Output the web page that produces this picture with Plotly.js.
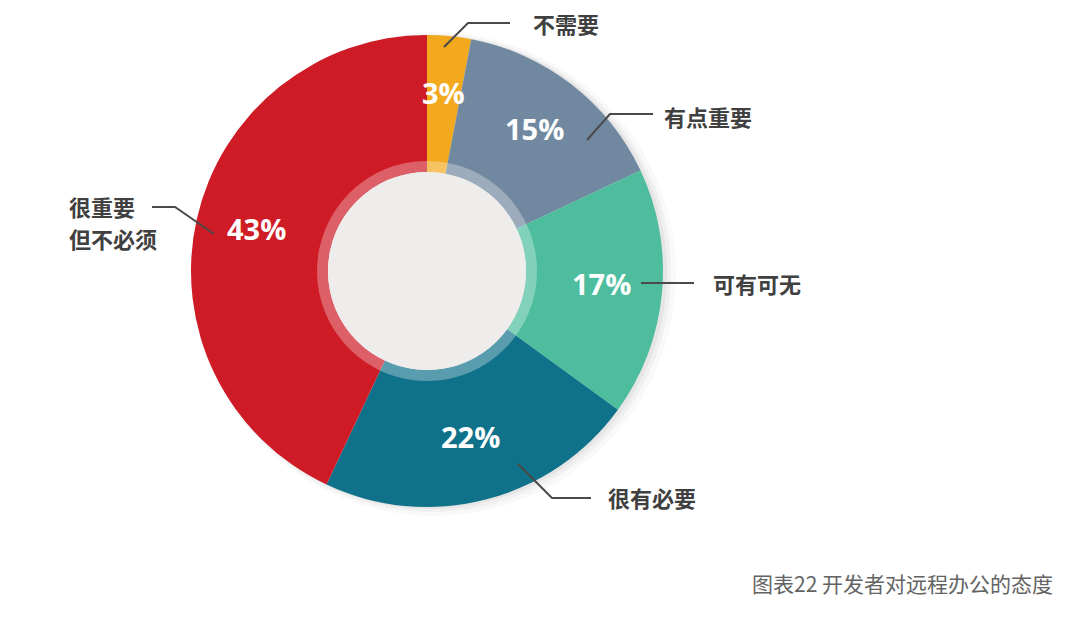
<!DOCTYPE html>
<html>
<head>
<meta charset="utf-8">
<script src="https://cdn.plot.ly/plotly-3.0.1.min.js"></script>
<style>
  html, body { margin: 0; padding: 0; background: #fff; }
  #chart { width: 1080px; height: 617px; }
</style>
</head>
<body>
<div id="chart"></div>
<script>
const categories = ["不需要", "有点重要", "可有可无", "很有必要", "很重要<br>但不必须"];
const shares = [3, 15, 17, 22, 43];
const sliceColors = ["#F2A91E", "#7189A0", "#4DBD9D", "#10728A", "#CF1B26"];
const chartTitle = "图表22 开发者对远程办公的态度";

const W = 1080, H = 617;
const cx = 427, cy = 271, R = 236, holeR = 99, ringR = 110;
const px = (x, y) => [x / W, 1 - y / H];

// percent labels at the middle angle of each slice
const total = shares.reduce((a, b) => a + b, 0);
let cum = 0;
const pctAnnotations = shares.map(v => {
  const mid = (cum + v / 2) / total * 2 * Math.PI;
  cum += v;
  const r = 175;
  const [x, y] = px(cx + r * Math.sin(mid), cy - 4 - r * Math.cos(mid));
  return {
    x, y, xref: "paper", yref: "paper", showarrow: false,
    xanchor: "center", yanchor: "middle",
    text: v + "%",
    font: { family: "Open Sans, Noto Sans, sans-serif", size: 29, color: "#ffffff", weight: 700 }
  };
});

// leader lines (pixel polylines) and label anchors
const leaders = [
  [[444, 47], [468, 23], [510, 23]],
  [[587, 140], [610, 114], [653, 114]],
  [[641, 283], [694, 283]],
  [[518, 464], [552, 498], [591, 498]],
  [[214, 234], [175, 207], [152, 207]]
];
const labelAnchors = [[532, 23], [663, 116], [712, 283], [607, 497], [68, 206]];
const lineGap = 32;

const leaderShapes = leaders.map(pts => ({
  type: "path", xref: "paper", yref: "paper",
  path: pts.map((p, i) => {
    const [x, y] = px(p[0], p[1]);
    return (i ? "L" : "M") + x + "," + y;
  }).join(" "),
  line: { color: "#4a4a4a", width: 2 }
}));

const labelAnnotations = categories.flatMap((c, i) =>
  c.split("<br>").map((part, k) => {
    const [x, y] = px(labelAnchors[i][0], labelAnchors[i][1] + k * lineGap);
    return {
      x, y, xref: "paper", yref: "paper", showarrow: false,
      xanchor: "left", yanchor: "middle", borderpad: 0,
      text: part,
      font: { family: "Noto Sans CJK SC, sans-serif", size: 22, color: "#404040", weight: 700 }
    };
  })
);

function circle(r, fill, layer, dx = 0, dy = 0) {
  const [x0, y1] = px(cx - r + dx, cy - r + dy);
  const [x1, y0] = px(cx + r + dx, cy + r + dy);
  return { type: "circle", xref: "paper", yref: "paper", x0, x1, y0, y1,
    fillcolor: fill, line: { width: 0 }, layer };
}

const shadows = [
  circle(R + 6, "rgba(0,0,0,0.025)", "below", 7, 3),
  circle(R + 3, "rgba(0,0,0,0.035)", "below", 5, 2),
  circle(R + 1, "rgba(0,0,0,0.045)", "below", 3, 1)
];

const [dx0] = px(cx - R, 0), [dx1] = px(cx + R, 0);
const dy0 = 1 - (cy + R) / H, dy1 = 1 - (cy - R) / H;

const trace = {
  type: "pie",
  labels: categories,
  values: shares,
  sort: false,
  direction: "clockwise",
  rotation: 0,
  hole: holeR / R,
  marker: { colors: sliceColors, line: { width: 0 } },
  textinfo: "none",
  hoverinfo: "label+percent",
  domain: { x: [dx0, dx1], y: [dy0, dy1] },
  showlegend: false
};

const [tx, ty] = px(1055, 583);
const layout = {
  width: W, height: H,
  margin: { l: 0, r: 0, t: 0, b: 0 },
  paper_bgcolor: "#ffffff",
  showlegend: false,
  shapes: [
    ...shadows,
    circle(ringR, "rgba(255,255,255,0.3)", "above"),
    circle(holeR, "#EEEDEC", "above"),
    ...leaderShapes
  ],
  annotations: [
    ...pctAnnotations,
    ...labelAnnotations,
    {
      x: tx, y: ty, xref: "paper", yref: "paper", showarrow: false,
      xanchor: "right", yanchor: "middle", text: chartTitle,
      font: { family: "Noto Sans CJK SC, sans-serif", size: 21, color: "#636363", weight: 400 }
    }
  ]
};

Plotly.newPlot("chart", [trace], layout, { displayModeBar: false, staticPlot: true });
</script>
</body>
</html>
